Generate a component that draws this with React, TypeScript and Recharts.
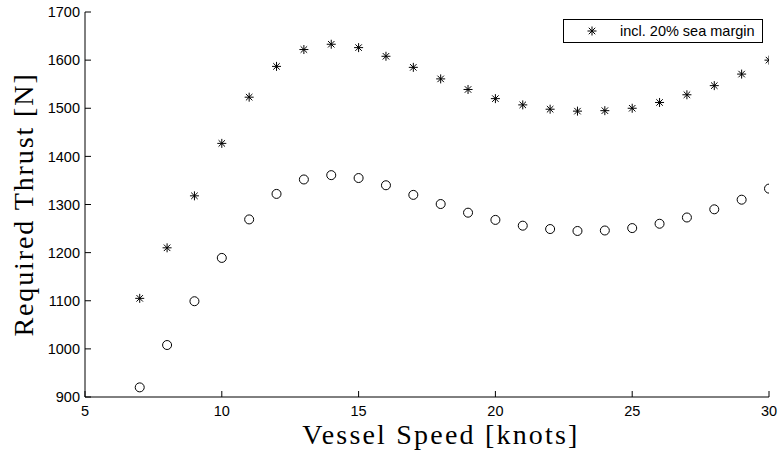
import { Legend, Scatter, ScatterChart, XAxis, YAxis } from "recharts";

const SPEEDS = [7, 8, 9, 10, 11, 12, 13, 14, 15, 16, 17, 18, 19, 20, 21, 22, 23, 24, 25, 26, 27, 28, 29, 30];
const THRUST = [
  920, 1008, 1099, 1189, 1269, 1322, 1352, 1361, 1355, 1340, 1320, 1301, 1283, 1268, 1256, 1249, 1245, 1246, 1251,
  1260, 1273, 1290, 1310, 1333,
];
const THRUST_MARGIN = [
  1105, 1210, 1318, 1427, 1523, 1587, 1622, 1633, 1626, 1608, 1585, 1561, 1539, 1520, 1507, 1498, 1494, 1495, 1500,
  1512, 1528, 1547, 1571, 1600,
];
const X_TICKS = [5, 10, 15, 20, 25, 30];
const Y_TICKS = [900, 1000, 1100, 1200, 1300, 1400, 1500, 1600, 1700];
const LEGEND_LABEL = "incl. 20% sea margin";

const SANS = "'Liberation Sans', Arial, Helvetica, sans-serif";
const SERIF = "'Liberation Serif', 'Times New Roman', serif";
const INK = "#000";

const tickStyle = { fontSize: 14.5, fill: INK, fontFamily: SANS };

const plain = SPEEDS.map((speed, i) => ({ speed, thrust: THRUST[i] }));
const withMargin = SPEEDS.map((speed, i) => ({ speed, thrust: THRUST_MARGIN[i] }));

// matlab style '*' marker: plus + cross
function Star({ cx, cy, r = 4.5 }: { cx?: number; cy?: number; r?: number }) {
  if (cx == null || cy == null) return null;
  const d = r * 0.72;
  return (
    <g stroke={INK} strokeWidth={1}>
      <line x1={cx - r} y1={cy} x2={cx + r} y2={cy} />
      <line x1={cx} y1={cy - r} x2={cx} y2={cy + r} />
      <line x1={cx - d} y1={cy - d} x2={cx + d} y2={cy + d} />
      <line x1={cx - d} y1={cy + d} x2={cx + d} y2={cy - d} />
    </g>
  );
}

function Ring({ cx, cy }: { cx?: number; cy?: number }) {
  if (cx == null || cy == null) return null;
  return <circle cx={cx} cy={cy} r={4.5} fill="none" stroke={INK} strokeWidth={1} />;
}

function YTitle({ viewBox }: any) {
  const x = 33;
  const y = viewBox.y + viewBox.height / 2;
  return (
    <text
      x={x}
      y={y}
      transform={`rotate(-90, ${x}, ${y})`}
      textAnchor="middle"
      fontFamily={SERIF}
      fontSize={28}
      letterSpacing={1.9}
      fill={INK}
    >
      Required Thrust [N]
    </text>
  );
}

function LegendBox({ payload }: any) {
  const items = (payload ?? []).filter((p: any) => p.type !== "none");
  return (
    <div
      style={{
        boxSizing: "border-box",
        width: 200,
        height: 24,
        border: `1px solid ${INK}`,
        background: "#fff",
        display: "flex",
        alignItems: "center",
        fontFamily: SANS,
        fontSize: 14.5,
        color: INK,
      }}
    >
      {items.map((p: any) => (
        <div key={p.value} style={{ display: "flex", alignItems: "center" }}>
          <svg width={56} height={20} style={{ display: "block" }}>
            <Star cx={28} cy={10} />
          </svg>
          <span>{p.value}</span>
        </div>
      ))}
    </div>
  );
}

export default function App() {
  return (
    <div style={{ position: "absolute", left: 0, top: 0, background: "#fff" }}>
      <ScatterChart width={778} height={455} margin={{ top: 12, right: 9, bottom: 0, left: 0 }}>
        <XAxis
          type="number"
          dataKey="speed"
          domain={[5, 30]}
          ticks={X_TICKS}
          allowDataOverflow
          height={58}
          tick={tickStyle}
          tickSize={-6}
          tickMargin={15}
          axisLine={{ stroke: INK }}
          tickLine={{ stroke: INK }}
          label={{
            value: "Vessel Speed [knots]",
            position: "insideBottom",
            offset: 11,
            dx: 14,
            fontFamily: SERIF,
            fontSize: 28,
            letterSpacing: 2.2,
            fill: INK,
          }}
        />
        <XAxis
          xAxisId="top"
          orientation="top"
          type="number"
          domain={[5, 30]}
          ticks={X_TICKS}
          allowDataOverflow
          height={0}
          tick={() => <g />}
          tickSize={-6}
          axisLine={{ stroke: INK }}
          tickLine={{ stroke: INK }}
        />
        <YAxis
          type="number"
          dataKey="thrust"
          domain={[900, 1700]}
          ticks={Y_TICKS}
          allowDataOverflow
          width={85}
          tick={tickStyle}
          tickSize={-6}
          tickMargin={11}
          axisLine={{ stroke: INK }}
          tickLine={{ stroke: INK }}
          label={<YTitle />}
        />
        <YAxis
          yAxisId="right"
          orientation="right"
          type="number"
          domain={[900, 1700]}
          ticks={Y_TICKS}
          allowDataOverflow
          width={0}
          tick={() => <g />}
          tickSize={-6}
          axisLine={{ stroke: INK }}
          tickLine={{ stroke: INK }}
        />
        <Legend
          layout="horizontal"
          verticalAlign="middle"
          align="center"
          content={<LegendBox />}
          wrapperStyle={{ top: 19, left: 563, width: 200, height: 24 }}
        />
        <Scatter
          name={LEGEND_LABEL}
          data={withMargin}
          shape={(p: any) => <Star cx={p.cx} cy={p.cy} />}
          isAnimationActive={false}
        />
        <Scatter
          name="no margin"
          legendType="none"
          data={plain}
          shape={(p: any) => <Ring cx={p.cx} cy={p.cy} />}
          isAnimationActive={false}
        />
      </ScatterChart>
    </div>
  );
}
